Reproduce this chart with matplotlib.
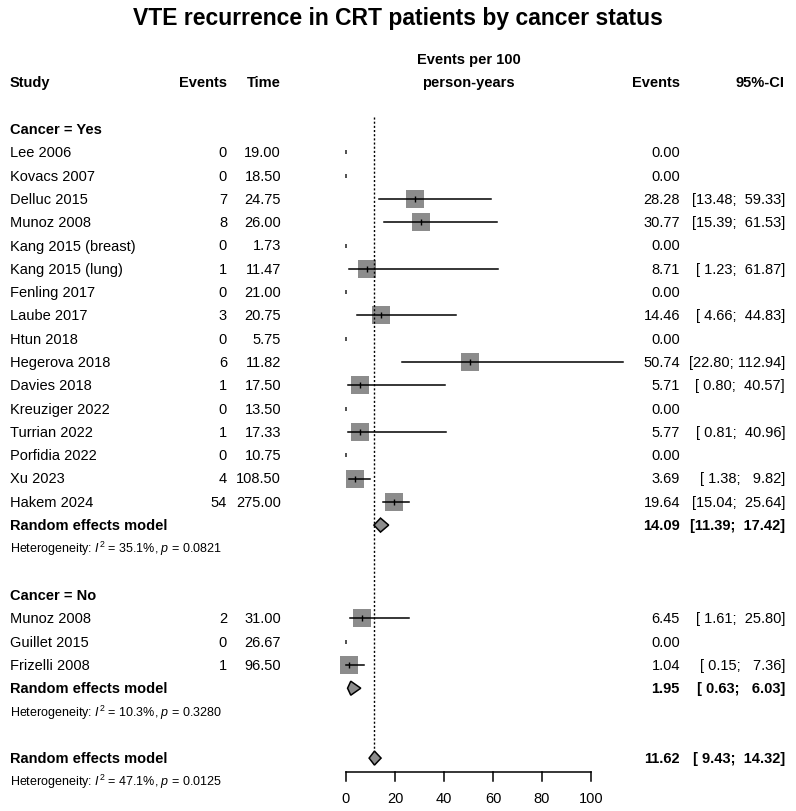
import numpy as np
import matplotlib
matplotlib.use('Agg')
import matplotlib.pyplot as plt
import matplotlib.transforms as mtransforms

plt.rcParams['font.family'] = ['Liberation Sans', 'DejaVu Sans']
plt.rcParams['mathtext.fontset'] = 'custom'
plt.rcParams['mathtext.rm'] = 'Liberation Sans'
plt.rcParams['mathtext.it'] = 'Liberation Sans:italic'

# data
yes_study = ['Lee 2006', 'Kovacs 2007', 'Delluc 2015', 'Munoz 2008', 'Kang 2015 (breast)',
             'Kang 2015 (lung)', 'Fenling 2017', 'Laube 2017', 'Htun 2018', 'Hegerova 2018',
             'Davies 2018', 'Kreuziger 2022', 'Turrian 2022', 'Porfidia 2022', 'Xu 2023', 'Hakem 2024']
yes_events = [0, 0, 7, 8, 0, 1, 0, 3, 0, 6, 1, 0, 1, 0, 4, 54]
yes_time = [19.00, 18.50, 24.75, 26.00, 1.73, 11.47, 21.00, 20.75, 5.75, 11.82,
            17.50, 13.50, 17.33, 10.75, 108.50, 275.00]
yes_rate = [0, 0, 28.28, 30.77, 0, 8.71, 0, 14.46, 0, 50.74, 5.71, 0, 5.77, 0, 3.69, 19.64]
yes_lo = [np.nan, np.nan, 13.48, 15.39, np.nan, 1.23, np.nan, 4.66, np.nan, 22.80,
          0.80, np.nan, 0.81, np.nan, 1.38, 15.04]
yes_hi = [np.nan, np.nan, 59.33, 61.53, np.nan, 61.87, np.nan, 44.83, np.nan, 112.94,
          40.57, np.nan, 40.96, np.nan, 9.82, 25.64]
yes_pooled = (14.09, 11.39, 17.42)
yes_het = ('35.1%', '0.0821')

no_study = ['Munoz 2008', 'Guillet 2015', 'Frizelli 2008']
no_events = [2, 0, 1]
no_time = [31.00, 26.67, 96.50]
no_rate = [6.45, 0, 1.04]
no_lo = [1.61, np.nan, 0.15]
no_hi = [25.80, np.nan, 7.36]
no_pooled = (1.95, 0.63, 6.03)
no_het = ('10.3%', '0.3280')

all_pooled = (11.62, 9.43, 14.32)
all_het = ('47.1%', '0.0125')

xticks = [0, 20, 40, 60, 80, 100]

fig = plt.figure(figsize=(7.96, 8.12), dpi=100)
ax = fig.add_axes([0, 0, 1, 1])
ax.set_xlim(-346 / 2.45, (796 - 346) / 2.45)
ax.set_ylim((812 - 130) / 23.3, -130 / 23.3)
ax.axis('off')

tr = mtransforms.blended_transform_factory(fig.transFigure, ax.transData)
fs = 10.5
sq = '#8c8c8c'

def px(x):
    return x / 796

def fmt_ci(lo, hi):
    return '[%5.2f; %6.2f]' % (lo, hi)

def study_row(r, name, ev, tm, rate, lo, hi):
    ax.text(px(10), r, name, transform=tr, fontsize=fs, va='center')
    ax.text(px(227), r, str(ev), transform=tr, fontsize=fs, va='center', ha='right')
    ax.text(px(281), r, '%.2f' % tm, transform=tr, fontsize=fs, va='center', ha='right')
    ax.text(px(680), r, '%.2f' % rate, transform=tr, fontsize=fs, va='center', ha='right')
    if np.isnan(lo):
        ax.plot([rate], [r], marker='|', color='#333333', markersize=3.5, mew=1.2)
    else:
        ax.plot([rate], [r], marker='s', color=sq, markersize=12.6, mew=0)
        ax.plot([lo, hi], [r, r], color='black', lw=1.1)
        ax.plot([rate], [r], marker='|', color='black', markersize=5, mew=1)
        ax.text(px(785), r, fmt_ci(lo, hi), transform=tr, fontsize=fs, va='center', ha='right')

def pooled_row(r, pooled, het):
    est, lo, hi = pooled
    ax.text(px(10), r, 'Random effects model', transform=tr, fontsize=fs, va='center', fontweight='bold')
    ax.text(px(680), r, '%.2f' % est, transform=tr, fontsize=fs, va='center', ha='right', fontweight='bold')
    ax.text(px(785), r, fmt_ci(lo, hi), transform=tr, fontsize=fs, va='center', ha='right', fontweight='bold')
    h = 0.3
    ax.fill([lo, est, hi, est], [r, r - h, r, r + h], facecolor=sq, edgecolor='black', lw=1.1)
    ax.text(px(10), r + 1, r'Heterogeneity: $I^2$ = %s, $p$ = %s' % het, transform=tr,
            fontsize=9, va='center')

# headers
fig.text(0.5, 1 - 18 / 812, 'VTE recurrence in CRT patients by cancer status',
         ha='center', va='center', fontsize=16.5, fontweight='bold')
ax.text(px(10), -2, 'Study', transform=tr, fontsize=fs, va='center', fontweight='bold')
ax.text(px(227), -2, 'Events', transform=tr, fontsize=fs, va='center', ha='right', fontweight='bold')
ax.text(px(281), -2, 'Time', transform=tr, fontsize=fs, va='center', ha='right', fontweight='bold')
ax.text(50, -3, 'Events per 100', fontsize=fs, va='center', ha='center', fontweight='bold')
ax.text(50, -2, 'person-years', fontsize=fs, va='center', ha='center', fontweight='bold')
ax.text(px(680), -2, 'Events', transform=tr, fontsize=fs, va='center', ha='right', fontweight='bold')
ax.text(px(785), -2, '95%-CI', transform=tr, fontsize=fs, va='center', ha='right', fontweight='bold')

# cancer = yes
ax.text(px(10), 0, 'Cancer = Yes', transform=tr, fontsize=fs, va='center', fontweight='bold')
for i in range(len(yes_study)):
    study_row(i + 1, yes_study[i], yes_events[i], yes_time[i], yes_rate[i], yes_lo[i], yes_hi[i])
pooled_row(17, yes_pooled, yes_het)

# cancer = no
ax.text(px(10), 20, 'Cancer = No', transform=tr, fontsize=fs, va='center', fontweight='bold')
for i in range(len(no_study)):
    study_row(i + 21, no_study[i], no_events[i], no_time[i], no_rate[i], no_lo[i], no_hi[i])
pooled_row(24, no_pooled, no_het)

# overall
pooled_row(27, all_pooled, all_het)

# reference line at overall estimate
ax.plot([all_pooled[0], all_pooled[0]], [-0.5, 26.7], color='black', lw=1, ls=(0, (1.5, 1.5)))

# x axis
ya = 27.6
ax.plot([xticks[0], xticks[-1]], [ya, ya], color='black', lw=1.1)
for t in xticks:
    ax.plot([t, t], [ya, ya + 0.4], color='black', lw=1.1)
    ax.text(t, ya + 1.1, str(t), fontsize=fs, ha='center', va='center')

fig.savefig('out.png', dpi=100)
